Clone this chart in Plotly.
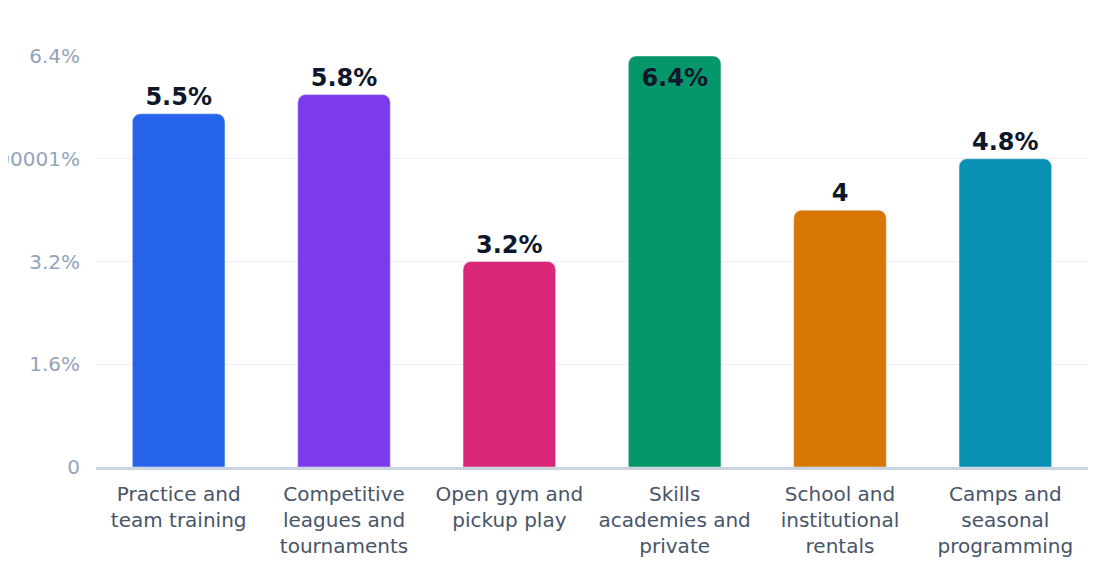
import plotly.graph_objects as go

# chart data
categories = [
    "Practice and<br>team training",
    "Competitive<br>leagues and<br>tournaments",
    "Open gym and<br>pickup play",
    "Skills<br>academies and<br>private",
    "School and<br>institutional<br>rentals",
    "Camps and<br>seasonal<br>programming",
]
shares = [5.5, 5.8, 3.2, 6.4, 4.0, 4.8]
barLabels = ["5.5%", "5.8%", "3.2%", "6.4%", "4", "4.8%"]
tickVals = [0, 1.6, 3.2, 4.800001, 6.4]
tickText = ["0", "1.6%", "3.2%", "4.800001%", "6.4%"]

barColours = ['#2563eb', '#7c3aed', '#db2777', '#059669', '#d97706', '#0891b2']
labelColour = '#0f172a'
tickColour = '#94a3b8'
catColour = '#475569'

# the tallest bar hits the top of the axis, so its label sits inside it
labelPos = ['inside' if v >= 6.4 else 'outside' for v in shares]

fig = go.Figure(go.Bar(
    x=categories, y=shares, text=barLabels, textposition=labelPos,
    insidetextanchor='end', textangle=0,
    marker=dict(color=barColours, cornerradius=8),
    textfont=dict(size=24, color=labelColour, family="DejaVu Sans", weight='bold'),
    cliponaxis=True, hoverinfo='skip',
))

fig.update_yaxes(range=[0, 6.4], tickvals=tickVals, ticktext=tickText,
                 showgrid=True, gridcolor='#eef2f6', gridwidth=1,
                 tickfont=dict(size=20, color=tickColour),
                 ticks='outside', ticklen=11, tickcolor='rgba(0,0,0,0)',
                 zeroline=False, showline=False, automargin=False)
fig.update_xaxes(showline=True, linecolor='#cbd5e1', linewidth=3,
                 tickfont=dict(size=20, color=catColour),
                 ticks='outside', ticklen=7, tickcolor='rgba(0,0,0,0)',
                 automargin=False)

# the page adds an 8px body margin, so the plot margins are 8px smaller
fig.update_layout(width=1120, height=584, bargap=0.44,
                  paper_bgcolor='white', plot_bgcolor='white',
                  font=dict(family="DejaVu Sans"),
                  margin=dict(t=48, b=125, l=88, r=40), showlegend=False)

fig.write_html("out.html")
